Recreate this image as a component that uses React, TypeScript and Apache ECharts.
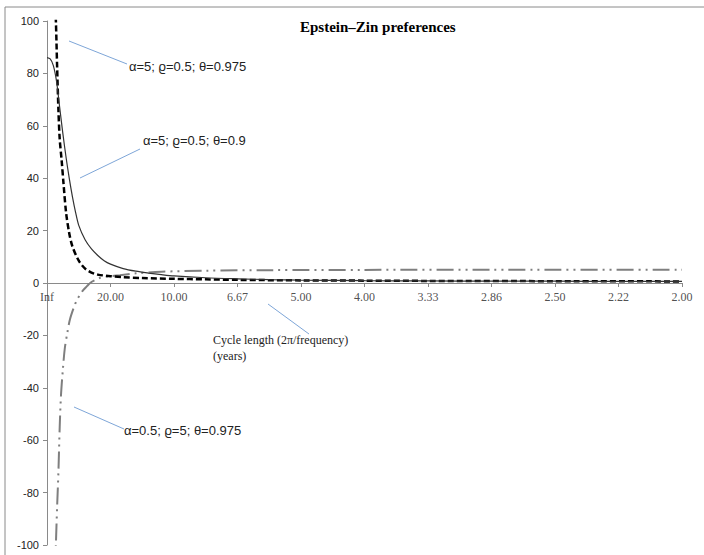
import React, { useEffect, useRef } from "react";
import * as echarts from "echarts";

// frequency expressed as fraction of pi (0..1); cycle length = 2/f
const xTickLabels = ["Inf", "20.00", "10.00", "6.67", "5.00", "4.00", "3.33", "2.86", "2.50", "2.22", "2.00"];

const freqA = [0.012, 0.014, 0.016, 0.018, 0.02, 0.023, 0.026, 0.03, 0.035, 0.04, 0.05, 0.06, 0.07, 0.08, 0.1, 0.12, 0.15, 0.2, 0.25, 0.3, 0.4, 0.5, 0.6, 0.8, 1.0];
const valsA = [112, 100, 82, 66, 55, 47, 38, 27, 19, 14, 8.5, 5.5, 4.0, 3.2, 2.6, 2.2, 1.9, 1.6, 1.4, 1.2, 1.0, 0.9, 0.8, 0.7, 0.6];

const freqB = [0, 0.005, 0.01, 0.015, 0.02, 0.025, 0.03, 0.035, 0.04, 0.045, 0.05, 0.06, 0.07, 0.08, 0.09, 0.1, 0.12, 0.14, 0.16, 0.18, 0.2, 0.25, 0.3, 0.35, 0.4, 0.5, 0.6, 0.7, 0.8, 0.9, 1.0];
const valsB = [86, 85.5, 83, 77, 67, 57, 48, 40, 33, 27, 22, 16.5, 13, 10.5, 8.5, 7.2, 5.5, 4.5, 3.8, 3.2, 2.7, 2.0, 1.6, 1.3, 1.1, 0.9, 0.8, 0.7, 0.7, 0.6, 0.6];

const freqC = [0.013, 0.014, 0.016, 0.018, 0.02, 0.022, 0.025, 0.028, 0.032, 0.036, 0.042, 0.047, 0.052, 0.057, 0.063, 0.068, 0.075, 0.083, 0.1, 0.115, 0.14, 0.18, 0.25, 0.35, 0.5, 0.7, 1.0];
const valsC = [-112, -100, -85, -72, -55, -43, -33, -25, -19, -14, -9.5, -6.5, -4.5, -2.7, -1.2, 0, 1.0, 1.9, 2.6, 3.0, 3.7, 4.3, 4.7, 4.9, 5.0, 5.1, 5.1];

const seriesNames = ["α=5; ϱ=0.5; θ=0.975", "α=5; ϱ=0.5; θ=0.9", "α=0.5; ϱ=5; θ=0.975"];
const titleText = "Epstein–Zin preferences";
const axisTitle1 = "Cycle length (2π/frequency)";
const axisTitle2 = "(years)";

const zip = (xs: number[], ys: number[]) => xs.map((x, i) => [x, ys[i]]);

export default function App() {
  const ref = useRef<HTMLDivElement>(null);
  useEffect(() => {
    if (!ref.current) return;
    const chart = echarts.init(ref.current, null, { renderer: "svg" });
    const lead = "#7ea6d8";
    const annoFont = "Liberation Sans";
    chart.setOption({
      animation: false,
      backgroundColor: "#ffffff",
      grid: { left: 47, right: 22, top: 21, bottom: 10 },
      xAxis: {
        type: "value",
        min: 0,
        max: 1,
        interval: 0.1,
        axisLine: { show: true, onZero: true, onZeroAxisIndex: 0, lineStyle: { color: "#8a8a8a", width: 1 } },
        axisTick: { show: true, length: 4, lineStyle: { color: "#8a8a8a" } },
        splitLine: { show: false },
        axisLabel: { show: false },
      },
      yAxis: {
        type: "value",
        min: -100,
        max: 100,
        interval: 20,
        axisLine: { show: true, onZero: false, lineStyle: { color: "#8a8a8a", width: 1 } },
        axisTick: { show: true, length: 4, lineStyle: { color: "#8a8a8a" } },
        splitLine: { show: false },
        axisLabel: { color: "#222", fontFamily: annoFont, fontSize: 11, margin: 8 },
      },
      series: [
        {
          name: "xticklabels",
          type: "scatter",
          data: xTickLabels.map((_, i) => [i / 10, 0]),
          symbolSize: 0,
          clip: false,
          silent: true,
          label: {
            show: true,
            position: "bottom",
            distance: 8,
            color: "#222",
            fontFamily: "Liberation Serif",
            fontSize: 12,
            formatter: (p: any) => xTickLabels[p.dataIndex],
          },
          z: 1,
        },
        {
          name: seriesNames[0],
          type: "line",
          data: zip(freqA, valsA),
          showSymbol: false,
          smooth: 0.3,
          clip: true,
          lineStyle: { color: "#000", width: 2.5, type: [6, 3] },
          z: 3,
        },
        {
          name: seriesNames[1],
          type: "line",
          data: zip(freqB, valsB),
          showSymbol: false,
          smooth: 0.3,
          clip: true,
          lineStyle: { color: "#333", width: 1.2 },
          z: 4,
        },
        {
          name: seriesNames[2],
          type: "line",
          data: zip(freqC, valsC),
          showSymbol: false,
          smooth: 0.3,
          clip: true,
          lineStyle: { color: "#7f7f7f", width: 2, type: [17, 5, 2, 5, 2, 5] },
          z: 2,
        },
      ],
      graphic: [
        { type: "line", shape: { x1: 5, y1: 7, x2: 704, y2: 7 }, style: { stroke: "#8a8a8a", lineWidth: 1 } },
        { type: "line", shape: { x1: 5, y1: 7, x2: 5, y2: 555 }, style: { stroke: "#8a8a8a", lineWidth: 1 } },
        {
          type: "text",
          left: 300,
          top: 19,
          style: { text: titleText, font: "bold 15px 'Liberation Serif'", fill: "#000" },
        },
        { type: "line", shape: { x1: 69, y1: 41, x2: 127, y2: 64 }, style: { stroke: lead, lineWidth: 1 } },
        { type: "text", left: 129, top: 60, style: { text: seriesNames[0], font: "13px " + annoFont, fill: "#222" } },
        { type: "line", shape: { x1: 80, y1: 178, x2: 140, y2: 149 }, style: { stroke: lead, lineWidth: 1 } },
        { type: "text", left: 143, top: 134, style: { text: seriesNames[1], font: "13px " + annoFont, fill: "#222" } },
        { type: "line", shape: { x1: 74, y1: 407, x2: 124, y2: 429 }, style: { stroke: lead, lineWidth: 1 } },
        { type: "text", left: 124, top: 424, style: { text: seriesNames[2], font: "13px " + annoFont, fill: "#222" } },
        { type: "line", shape: { x1: 268, y1: 304, x2: 309, y2: 334 }, style: { stroke: lead, lineWidth: 1 } },
        { type: "text", left: 213, top: 334, style: { text: axisTitle1, font: "12px 'Liberation Serif'", fill: "#222" } },
        { type: "text", left: 213, top: 350, style: { text: axisTitle2, font: "12px 'Liberation Serif'", fill: "#222" } },
      ],
    });
    return () => chart.dispose();
  }, []);
  return <div ref={ref} style={{ width: 704, height: 555, position: "absolute", left: 0, top: 0 }} />;
}
